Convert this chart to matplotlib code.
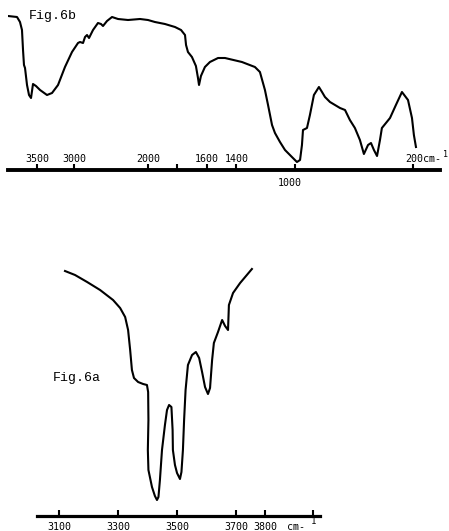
import numpy as np
import matplotlib
matplotlib.use("Agg")
import matplotlib.pyplot as plt

# ---------------- data: Fig.6b (full-range spectrum) ----------------
wn_b = [3892, 3770, 3730, 3703, 3689, 3676, 3662, 3635, 3608, 3581, 3554, 3514,
        3459, 3365, 3297, 3216, 3122, 3027, 2946, 2919, 2878, 2851, 2824, 2797,
        2743, 2676, 2635, 2608, 2554, 2486, 2405, 2270, 2108, 2000, 1953, 1885,
        1817, 1776, 1749, 1742, 1729, 1702, 1675, 1661, 1654, 1641, 1614, 1580,
        1525, 1478, 1363, 1275, 1241, 1207, 1186, 1159, 1139, 1105, 1071, 1024,
        990, 969, 956, 949, 922, 902, 875, 841, 820, 800, 766, 732, 698, 664,
        631, 597, 563, 536, 508, 488, 468, 447, 427, 414, 359, 319, 278, 237,
        210, 197, 183]
T_b = [154, 153, 148, 140, 120, 105, 102, 85, 75, 72, 86, 84,
       80, 75, 77, 85, 103, 118, 127, 128, 127, 133, 135, 132,
       140, 147, 146, 144, 149, 153, 151, 150, 151, 150, 148, 146,
       143, 140, 135, 125, 118, 113, 104, 92, 85, 94, 103, 108,
       112, 112, 108, 103, 98, 80, 65, 45, 37, 28, 20, 13,
       8, 10, 25, 40, 42, 55, 75, 83, 78, 73, 68, 65, 62, 60,
       50, 42, 30, 16, 25, 27, 20, 14, 30, 42, 52, 65, 78, 70,
       52, 35, 23]
ticks_b = [3500, 3000, 2000, 1800, 1600, 1400, 1000, 200]
labels_b = ["3500", "3000", "2000", "", "1600", "1400", "1000", "200cm-"]

# ---------------- data: Fig.6a (OH stretching region) ----------------
wn_a = [3120, 3154, 3195, 3239, 3283, 3307, 3324, 3334, 3341, 3347, 3354, 3368,
        3385, 3398, 3402, 3403, 3401, 3403, 3415, 3425, 3432, 3437, 3442, 3449,
        3459, 3466, 3473, 3481, 3485, 3486, 3493, 3500, 3510, 3515, 3520, 3524,
        3529, 3537, 3551, 3564, 3575, 3585, 3595, 3605, 3612, 3619, 3625, 3639,
        3653, 3663, 3673, 3676, 3690, 3714, 3734, 3754]
T_a = [245, 241, 234, 226, 216, 208, 199, 186, 166, 146, 138, 134,
       132, 131, 124, 96, 66, 46, 29, 20, 16, 19, 36, 66,
       91, 106, 111, 109, 86, 66, 51, 43, 37, 44, 66, 96,
       126, 151, 161, 164, 158, 144, 129, 122, 128, 156, 173, 184,
       196, 190, 186, 211, 223, 233, 240, 247]
ticks_a = [3100, 3300, 3500, 3700, 3800, 3960]
labels_a = ["3100", "3300", "3500", "3700", "3800", ""]

W, H = 449, 531
fig = plt.figure(figsize=(W / 100, H / 100), dpi=100)
fig.patch.set_facecolor("white")

MONO = "DejaVu Sans Mono"
COUR = "Liberation Mono"


# chart paper scale: half scale above 2000 cm-1, full scale below (increasing map)
def fwd(w):
    w = np.asarray(w, dtype=float)
    return np.where(w >= 2000, (w - 2000) * 0.074, (w - 2000) * 0.1475)


def inv(u):
    u = np.asarray(u, dtype=float)
    return np.where(u >= 0, 2000 + u / 0.074, 2000 + u / 0.1475)


# ---------------- top panel ----------------
axb = fig.add_axes([8 / W, 1 - 170 / H, 432 / W, 160 / H])
axb.set_xscale("function", functions=(fwd, inv))
axb.plot(wn_b, T_b, color="black", lw=1.5, solid_joinstyle="round")
axb.set_xlim(3892, 20)
axb.set_ylim(0, 160)
for s in ["top", "left", "right"]:
    axb.spines[s].set_visible(False)
axb.spines["bottom"].set_linewidth(2.8)
axb.set_yticks([])
axb.set_xticks(ticks_b)
axb.minorticks_off()
axb.set_xticklabels([])
axb.tick_params(axis="x", direction="in", length=4, width=1.5, color="black")
axb.patch.set_alpha(0)
for t, lab in zip(ticks_b, labels_b):
    if not lab:
        continue
    if t == 1000:
        axb.text(t + 40, -0.08, lab, transform=axb.get_xaxis_transform(),
                 ha="center", va="center", family=MONO, fontsize=7.2)
    elif t == 200:
        axb.text(t + 55, 0.07, lab, transform=axb.get_xaxis_transform(),
                 ha="left", va="center", family=MONO, fontsize=7.2)
        fig.text(443 / W, 1 - 155 / H, "1", ha="left", va="center",
                 family=MONO, fontsize=6.0)
    else:
        axb.text(t, 0.07, lab, transform=axb.get_xaxis_transform(),
                 ha="center", va="center", family=MONO, fontsize=7.2)

fig.text(29 / W, 1 - 16 / H, "Fig.6b", ha="left", va="center",
         family=COUR, fontsize=9.5)

# ---------------- bottom panel ----------------
axa = fig.add_axes([37 / W, 1 - 516 / H, 283 / W, 255 / H])
axa.plot(wn_a, T_a, color="black", lw=1.5, solid_joinstyle="round")
axa.set_xlim(3025, 3985)
axa.set_ylim(0, 255)
for s in ["top", "left", "right"]:
    axa.spines[s].set_visible(False)
axa.spines["bottom"].set_linewidth(2.3)
axa.set_yticks([])
axa.set_xticks(ticks_a)
axa.set_xticklabels([])
axa.tick_params(axis="x", direction="in", length=4, width=1.5, color="black")
axa.patch.set_alpha(0)
for t, lab in zip(ticks_a, labels_a):
    if lab:
        axa.text(t, -0.043, lab, transform=axa.get_xaxis_transform(),
                 ha="center", va="center", family=MONO, fontsize=7.2)
fig.text(287 / W, 1 - 527 / H, "cm-", ha="left", va="center",
         family=MONO, fontsize=7.2)
fig.text(311 / W, 1 - 521 / H, "1", ha="left", va="center",
         family=MONO, fontsize=6.5)

fig.text(53 / W, 1 - 378 / H, "Fig.6a", ha="left", va="center",
         family=COUR, fontsize=9.5)

fig.savefig("out.png", dpi=100, facecolor="white")
